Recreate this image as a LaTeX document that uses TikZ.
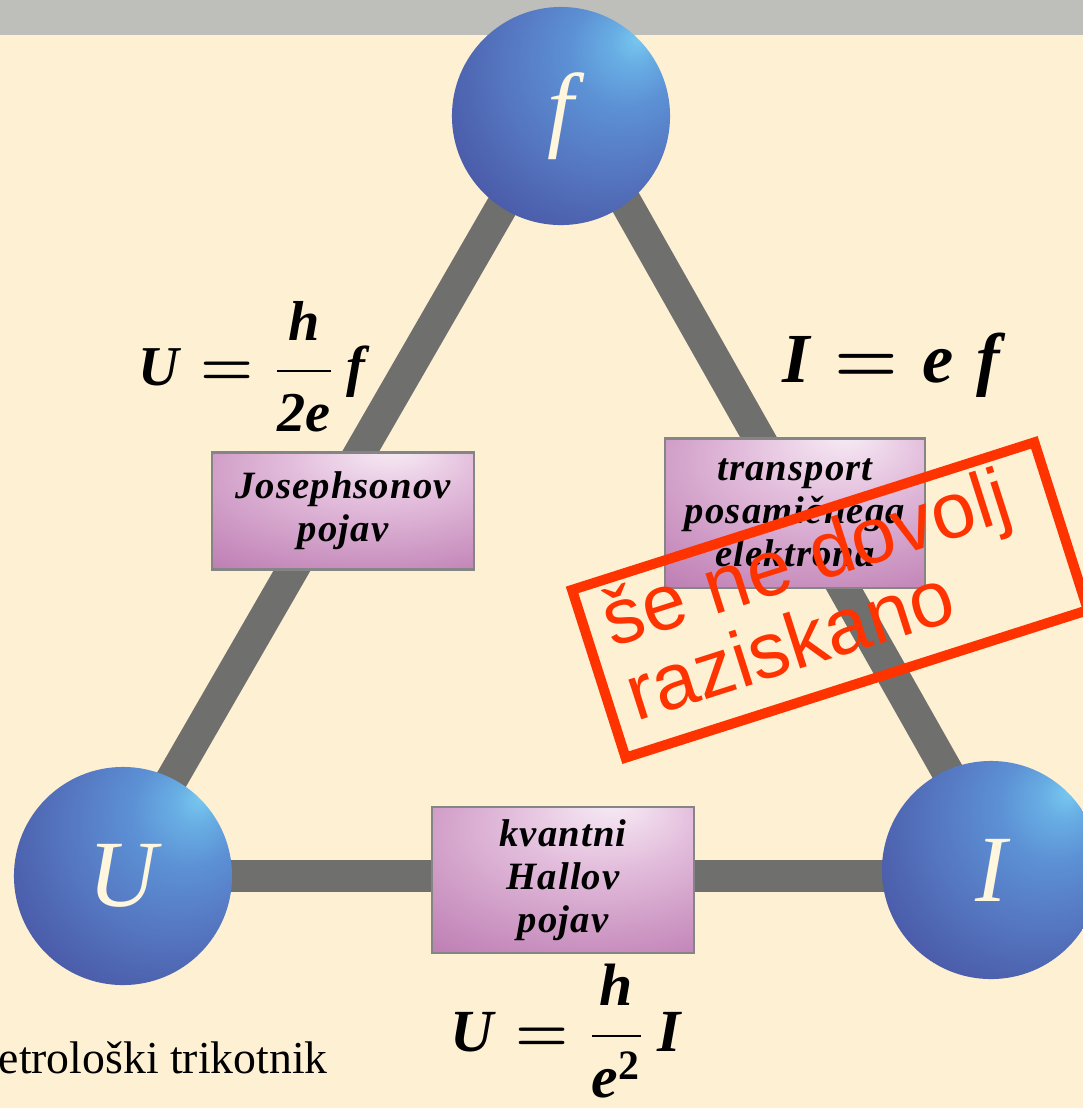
\documentclass[tikz,border=0pt]{standalone}
\usepackage{amsmath}
\usepackage{fontspec}
\setmainfont{Liberation Serif}
\setsansfont{Liberation Sans}
\usetikzlibrary{backgrounds}
\definecolor{paper}{HTML}{FEF0D3}
\definecolor{headbar}{HTML}{BEBFBA}
\definecolor{rodgray}{HTML}{6F6F6D}
\definecolor{ballhl}{HTML}{78C8F0}
\definecolor{balla}{HTML}{68AEE4}
\definecolor{ballb}{HTML}{5C90D4}
\definecolor{ballc}{HTML}{5576C0}
\definecolor{balld}{HTML}{4A5AA8}
\definecolor{balle}{HTML}{3A3A88}
\definecolor{ballf}{HTML}{34337E}
\definecolor{boxhl}{HTML}{F8EDF6}
\definecolor{boxa}{HTML}{E2BCDB}
\definecolor{boxb}{HTML}{C58ABB}
\definecolor{boxc}{HTML}{9A478C}
\definecolor{boxrule}{HTML}{858585}
\definecolor{stamp}{HTML}{FF3300}
\definecolor{letter}{HTML}{FFF6DE}
\pgfdeclareradialshading{bluesphere}{\pgfqpoint{18bp}{18bp}}{color(0bp)=(ballhl); color(5bp)=(balla); color(13bp)=(ballb); color(25bp)=(ballc); color(38bp)=(balld); color(50bp)=(balle); color(70bp)=(ballf)}
\pgfdeclareradialshading{plaque}{\pgfqpoint{10bp}{28bp}}{color(0bp)=(boxhl); color(18bp)=(boxa); color(40bp)=(boxb); color(72bp)=(boxc)}
\newcommand{\bivar}[1]{\textbf{\textit{#1}}}

\begin{document}
\begin{tikzpicture}[x=0.01cm, y=-0.01cm,
  ball/.style={circle, minimum size=2.18cm, inner sep=0pt, shading=bluesphere, text=letter, font=\fontsize{27}{30}\selectfont\itshape},
  effect/.style={rectangle, draw=boxrule, line width=0.6pt, shading=plaque, align=center, inner sep=0pt, font=\fontsize{11}{12.3}\selectfont\bfseries\itshape\addfontfeatures{LetterSpace=3}},
  rod/.style={draw=rodgray, line width=0.32cm},
  law/.style={font=\fontsize{16}{19}\selectfont\boldmath},
  stamptext/.style={font=\sffamily\fontsize{22.5}{25}\selectfont, text=stamp, inner sep=0pt, transform shape}
]
\useasboundingbox (0,0) rectangle (1083,1108);

% the three quantities
\node[ball] (f) at (561,116) {f};
\node[ball] (U) at (123,876) {U};
\node[ball] (I) at (991,870) {I};

% effects on the sides
\node[effect, minimum width=2.62cm, minimum height=1.17cm] (jos) at (343,511) {Josephsonov\\pojav};
\node[effect, minimum width=2.60cm, minimum height=1.49cm] (spe) at (795,513) {transport\\posamičnega\\elektrona};
\node[effect, minimum width=2.62cm, minimum height=1.46cm] (qhe) at (563,880) {kvantni\\Hallov\\pojav};

% relations
\node[law] (josEq) at (254,367) {$\bivar{U} = \dfrac{\bivar{h}}{\bivar{2e}}\,\bivar{f}$};
\node[law, font=\fontsize{20}{23}\selectfont\boldmath] (speEq) at (894,365) {$\bivar{I} = \bivar{e}\;\bivar{f}$};
\node[law, font=\fontsize{17}{20}\selectfont\boldmath] (qheEq) at (566,1031) {$\bivar{U} = \dfrac{\bivar{h}}{\bivar{e}^{\textbf{2}}}\,\bivar{I}$};

\node[font=\fontsize{13}{16}\selectfont, inner sep=0pt, anchor=base west] (caption) at (-2,1073) {etrološki trikotnik};

% stamp
\begin{scope}[shift={(830,600)}, rotate=17.7]
  \node[draw=stamp, line width=0.1cm, minimum width=4.85cm, minimum height=1.76cm, inner sep=0pt, transform shape] (stampbox) at (0,0) {};
  \node[stamptext, anchor=base west] (stamp1) at (-222,-21) {še ne dovolj};
  \node[stamptext, anchor=base west] (stamp2) at (-222,57) {raziskano};
\end{scope}

\begin{scope}[on background layer]
  \fill[paper] (0,0) rectangle (1083,1108);
  \fill[headbar] (0,0) rectangle (1083,35);
  \draw[rod] ([xshift=-0.07cm]f.center) -- ([xshift=-0.07cm]U.center);
  \draw[rod] ([xshift=0.16cm]f.center) -- ([xshift=0.12cm]I.center);
  \draw[rod] (U.center) -- (U.center -| I.center);
\end{scope}
\end{tikzpicture}
\end{document}
